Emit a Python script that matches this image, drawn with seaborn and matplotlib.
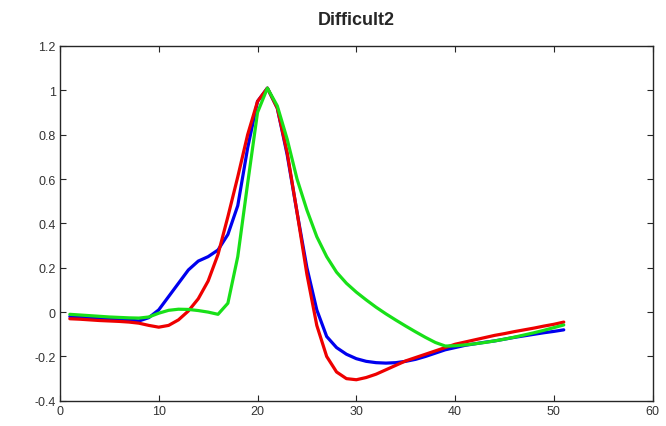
# Difficult2 - three normalised responses
import numpy as np
import pandas as pd
import seaborn as sns
import matplotlib
matplotlib.use("Agg")
import matplotlib.pyplot as plt

sns.set_style("ticks", {"xtick.direction": "in", "ytick.direction": "in"})
plt.rcParams['font.family'] = ['Liberation Sans', 'DejaVu Sans']
plt.rcParams['axes.unicode_minus'] = False

x = list(range(1, 52))
blue = [-0.02, -0.022, -0.025, -0.028, -0.03, -0.033, -0.036, -0.04, -0.025, 0.01,
        0.07, 0.13, 0.19, 0.23, 0.25, 0.28, 0.35, 0.48, 0.74, 0.95,
        1.01, 0.92, 0.71, 0.45, 0.2, 0.01, -0.11, -0.16, -0.19, -0.21,
        -0.222, -0.228, -0.23, -0.228, -0.222, -0.213, -0.2, -0.185, -0.17, -0.16,
        -0.15, -0.143, -0.136, -0.13, -0.122, -0.114, -0.107, -0.1, -0.093, -0.087,
        -0.08]
red = [-0.03, -0.032, -0.035, -0.038, -0.04, -0.042, -0.045, -0.05, -0.06, -0.068,
       -0.06, -0.035, 0.005, 0.06, 0.14, 0.26, 0.43, 0.61, 0.8, 0.95,
       1.01, 0.92, 0.72, 0.45, 0.17, -0.06, -0.2, -0.27, -0.3, -0.305,
       -0.295, -0.28, -0.26, -0.24, -0.22, -0.205, -0.19, -0.175, -0.16, -0.145,
       -0.135, -0.125, -0.115, -0.105, -0.097, -0.088, -0.08, -0.072, -0.063, -0.055,
       -0.045]
green = [-0.01, -0.013, -0.016, -0.019, -0.022, -0.024, -0.026, -0.027, -0.022, -0.005,
         0.008, 0.013, 0.012, 0.007, 0.0, -0.01, 0.04, 0.25, 0.58, 0.9,
         1.01, 0.93, 0.78, 0.6, 0.46, 0.34, 0.25, 0.18, 0.13, 0.09,
         0.055, 0.022, -0.008, -0.036, -0.063, -0.089, -0.114, -0.137, -0.153, -0.152,
         -0.148, -0.143, -0.137, -0.13, -0.122, -0.113, -0.103, -0.093, -0.082, -0.07,
         -0.058]
ytick_labels = ['-0.4', '-0.2', '0', '0.2', '0.4', '0.6', '0.8', '1', '1.2']

df = pd.DataFrame({'x': x, 'blue': blue, 'red': red, 'green': green})
df = df.melt('x', var_name='series', value_name='y')

colors = {'blue': '#0000ee', 'red': '#ee0000', 'green': '#18e018'}

fig = plt.figure(figsize=(6.66, 4.27), dpi=100)
ax = fig.add_axes([0.09, 0.059, 0.89, 0.831])
sns.lineplot(ax=ax, data=df, x='x', y='y', hue='series', palette=colors,
             lw=2.3, legend=False)

ax.set_xlim(0, 60)
ax.set_ylim(-0.4, 1.2)
ax.set_xticks(np.arange(0, 61, 10))
ax.set_yticks(np.arange(-0.4, 1.21, 0.2))
ax.set_yticklabels(ytick_labels)
ax.tick_params(top=True, right=True, labelsize=9, length=4, width=0.8,
               labelcolor='#333333', pad=3)
for s in ax.spines.values():
    s.set_linewidth(1.0)
ax.set_xlabel('')
ax.set_ylabel('')
ax.set_title('Difficult2', fontsize=13, fontweight='bold', pad=16)

fig.savefig('out.png', dpi=100)
